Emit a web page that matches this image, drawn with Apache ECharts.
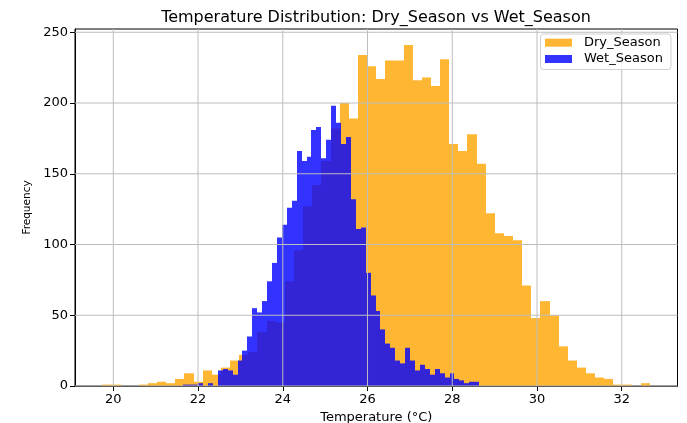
<!DOCTYPE html>
<html><head><meta charset="utf-8">
<script src="https://cdn.jsdelivr.net/npm/echarts@6/dist/echarts.min.js"></script>
<style>html,body{margin:0;padding:0;background:#fff}#c{width:687px;height:423px}</style>
</head><body><div id="c"></div>
<script>
// Histogram parameters (bin edges) and counts
const dryStart = 19.74;
const dryBinWidth = 0.21545;
const dryCounts = [1,1,0,0,1,2,3,2,5,9,
  3,11,8,13,18,22,24,38,46,45,
  74,96,127,142,159,182,200,189,234,226,
  217,230,230,241,216,218,212,231,171,166,
  178,157,122,108,106,103,71,48,60,50,
  28,18,13,9,6,5,1,1,0,2];
const wetStart = 21.652;
const wetBinWidth = 0.11635;
const wetCounts = [1,1,1,2,0,2,0,11,12,11,
  8,18,25,35,55,52,60,74,87,105,
  114,126,131,166,159,162,181,183,161,174,
  198,186,171,176,132,111,112,80,64,53,
  40,30,27,18,16,27,18,11,15,12,
  8,12,9,6,9,5,4,2,3,3];
const xTicks = [20,22,24,26,28,30,32];
const yTicks = [0,50,100,150,200,250];
const seriesNames = ['Dry_Season','Wet_Season'];

const FONT = 'DejaVu Sans';
const xMin = 19.096, xMax = 33.316, yMin = 0, yMax = 252.3;

function binData(start, w, counts) {
  return counts.map((c, i) => [start + i * w, start + (i + 1) * w, c]);
}
function histRender(color) {
  return function (params, api) {
    const p0 = api.coord([api.value(0), api.value(2)]);
    const p1 = api.coord([api.value(1), 0]);
    const xa = Math.round(p0[0]), xb = Math.round(p1[0]);
    return {type: 'rect', shape: {x: xa, y: p0[1], width: xb - xa, height: p1[1] - p0[1]},
      style: {fill: color}};
  };
}
const gridColor = '#bdbdbd';

const chart = echarts.init(document.getElementById('c'), null, {renderer: 'canvas'});
chart.setOption({
  animation: false,
  backgroundColor: '#fff',
  textStyle: {fontFamily: FONT},
  title: {
    text: 'Temperature Distribution: Dry_Season vs Wet_Season',
    left: 376, top: 10, textAlign: 'center', padding: 0,
    textStyle: {fontFamily: FONT, fontSize: 16, fontWeight: 'normal', color: '#000'}
  },
  grid: {left: 75, right: 9.5, top: 29, bottom: 37, show: true, borderColor: '#000', borderWidth: 1,
    backgroundColor: '#fff', outerBoundsMode: 'none', containLabel: false},
  legend: {
    orient: 'vertical', left: 545, top: 34.7, padding: 0, itemGap: 0.3,
    itemWidth: 27, itemHeight: 8, icon: 'rect', z: 11,
    data: seriesNames,
    textStyle: {fontFamily: FONT, fontSize: 13, color: '#000', lineHeight: 16, padding: [0,0,0,7]}
  },
  graphic: [{
    type: 'rect', z: 10, shape: {x: 540.5, y: 34, width: 130.5, height: 35.5, r: 3},
    style: {fill: 'rgba(255,255,255,0.8)', stroke: '#d0d0d0', lineWidth: 1}
  }],
  xAxis: {
    type: 'value', min: xMin, max: xMax,
    name: 'Temperature (°C)', nameLocation: 'middle', nameGap: 18,
    nameTextStyle: {fontFamily: FONT, fontSize: 13, color: '#000'},
    axisLine: {show: true, lineStyle: {color: '#000', width: 1}},
    axisTick: {show: true, length: 5, customValues: xTicks, lineStyle: {color: '#000'}},
    axisLabel: {customValues: xTicks, margin: 7, fontFamily: FONT, fontSize: 13, color: '#000'},
    splitLine: {show: false}
  },
  yAxis: {
    type: 'value', min: yMin, max: yMax,
    name: 'Frequency', nameLocation: 'middle', nameGap: 39, nameRotate: 90,
    nameTextStyle: {fontFamily: FONT, fontSize: 10.5, color: '#000'},
    axisLine: {show: true, lineStyle: {color: '#000', width: 1}},
    axisTick: {show: true, length: 5, customValues: yTicks, lineStyle: {color: '#000'}},
    axisLabel: {customValues: yTicks, margin: 7, fontFamily: FONT, fontSize: 13, color: '#000'},
    splitLine: {show: false}
  },
  series: [
    {name: seriesNames[0], type: 'custom', renderItem: histRender('rgba(255,165,0,0.8)'),
     itemStyle: {color: 'rgba(255,165,0,0.8)'}, encode: {x: [0, 1], y: 2}, z: 2,
     data: binData(dryStart, dryBinWidth, dryCounts)},
    {name: seriesNames[1], type: 'custom', renderItem: histRender('rgba(0,0,255,0.8)'),
     itemStyle: {color: 'rgba(0,0,255,0.8)'}, encode: {x: [0, 1], y: 2}, z: 2,
     data: binData(wetStart, wetBinWidth, wetCounts)},
    {type: 'custom', silent: true, z: 3, encode: {x: 0},
     data: xTicks.map(v => [v]),
     renderItem: function (params, api) {
       const a = api.coord([api.value(0), yMin]);
       const top = params.coordSys.y;
       return {type: 'line', shape: {x1: a[0], y1: a[1], x2: a[0], y2: top},
         style: {stroke: gridColor, lineWidth: 1}};
     }},
    {type: 'custom', silent: true, z: 3, encode: {y: 0},
     data: yTicks.map(v => [v]),
     renderItem: function (params, api) {
       const a = api.coord([xMin, api.value(0)]);
       const right = params.coordSys.x + params.coordSys.width;
       return {type: 'line', shape: {x1: a[0], y1: a[1], x2: right, y2: a[1]},
         style: {stroke: gridColor, lineWidth: 1}};
     }}
  ]
});
</script></body></html>
